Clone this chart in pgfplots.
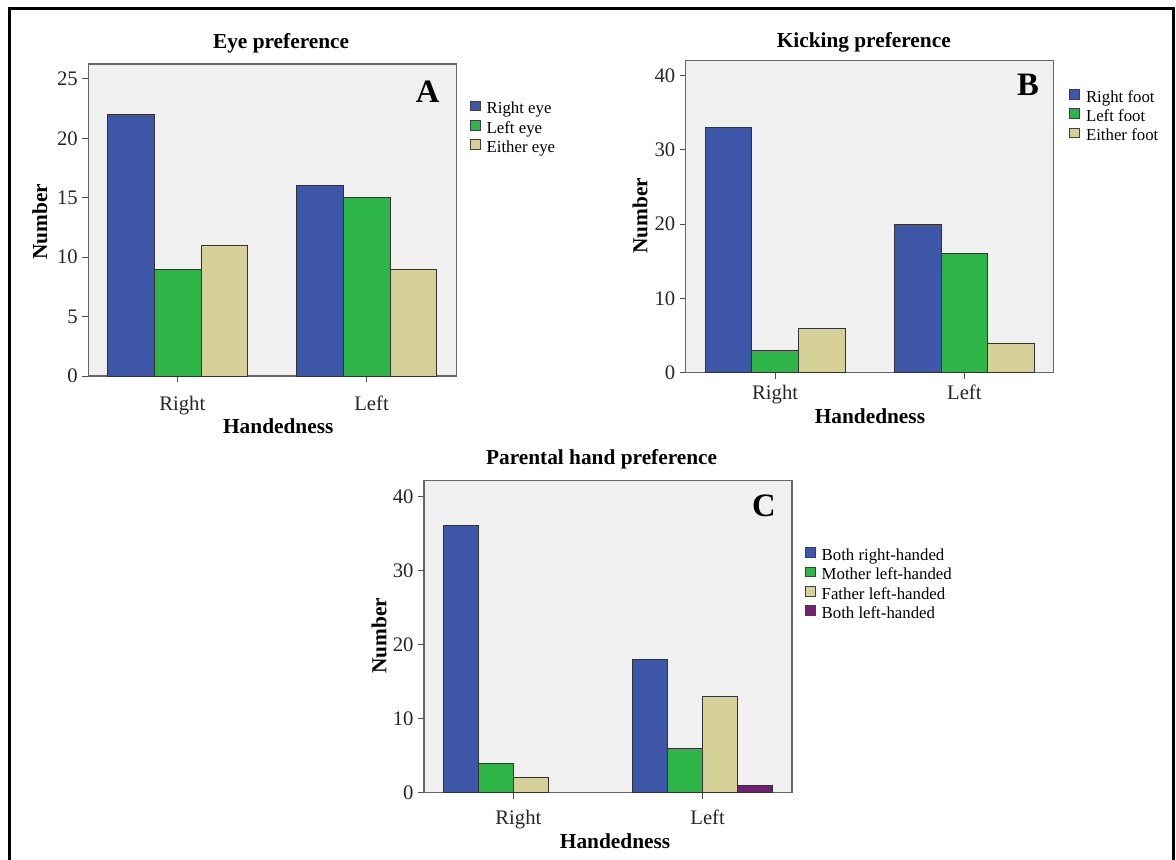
\documentclass[border=0pt]{standalone}
\usepackage{fontspec}
\setmainfont{Liberation Serif}
\usepackage{pgfplots}
\pgfplotsset{compat=1.18}
\definecolor{cblue}{HTML}{3E57A8}
\definecolor{cgreen}{HTML}{2EB548}
\definecolor{ctan}{HTML}{D5D098}
\definecolor{cpurple}{HTML}{70206E}
\definecolor{bgc}{HTML}{F0F0F0}
\pgfplotsset{
  sqlegend/.style={legend image code/.code={\draw[##1, draw=black!75, line width=0.5pt] (0pt,-1.9pt) rectangle (7.4pt,5.5pt);}},
  panel/.style={
    scale only axis, width=276pt, height=234pt,
    anchor=south west,
    ybar=0pt,
    xmin=-0.4726, xmax=1.4726, ymin=0,
    xtick={0,1}, xticklabels={Right,Left},
    tick align=outside, xtick pos=bottom, ytick pos=left,
    major tick length=4.5pt,
    tick style={black!70, line width=0.75pt},
    axis line style={black!60, line width=0.9pt},
    axis background/.style={fill=bgc},
    /pgf/number format/assume math mode=true,
    ticklabel style={font=\fontsize{15.5}{18}\selectfont, text=black!85},
    yticklabel style={anchor=east, inner sep=0pt, xshift=-3.2pt},
    xticklabel style={anchor=base, inner sep=0pt},
    every axis title shift=0pt,
    title style={anchor=base, font=\bfseries\fontsize{16}{19}\selectfont},
    xlabel style={anchor=base, font=\bfseries\fontsize{16}{19}\selectfont},
    ylabel style={anchor=center, font=\bfseries\fontsize{16}{19}\selectfont},
    legend cell align=left,
    legend style={draw=none, fill=none, inner sep=0pt, outer sep=0pt, anchor=north west,
      font=\fontsize{12.6}{14.5}\selectfont, row sep=0pt,
      nodes={inner xsep=4.6pt, inner ysep=0pt, text height=11.45pt, text depth=3.05pt}},
    every axis plot post/.append style={sqlegend},
  },
  bars/.style={draw=black!80, line width=0.7pt, fill=#1},
}
\begin{document}
\begin{tikzpicture}
\path[use as bounding box] (0pt,0pt) rectangle (882pt,-644.25pt);
\draw[line width=2.4pt, line join=miter] (7.2pt,-650pt) -- (7.2pt,-6.6pt) -- (879.9pt,-6.6pt) -- (879.9pt,-650pt);

% Panel A
\begin{axis}[panel, at={(66.2pt,-282pt)},
  ymax=26.26, ytick={0,5,...,25}, bar width=0.2466,
  xticklabel style={yshift=-21pt, xshift=3.5pt},
  title={Eye preference}, title style={at={(axis description cs:0.524,1.0503)}},
  xlabel={Handedness}, xlabel style={at={(axis description cs:0.5163,-0.1837)}},
  ylabel={Number}, ylabel style={at={(axis description cs:-0.1313,0.4949)}},
  legend style={at={(axis description cs:1.0372,0.889)}},
]
\addplot[bars=cblue] coordinates {(0,22) (1,16)};
\addplot[bars=cgreen] coordinates {(0,9) (1,15)};
\addplot[bars=ctan] coordinates {(0,11) (1,9)};
\legend{Right eye, Left eye, Either eye}
\node[font=\bfseries\fontsize{24.5}{28}\selectfont] at (axis description cs:0.9223,0.9103) {A};
\end{axis}

% Panel B
\begin{axis}[panel, at={(514.3pt,-279.5pt)},
  ymax=42.03, ytick={0,10,...,40}, bar width=0.2466,
  xticklabel style={yshift=-15.5pt},
  title={Kicking preference}, title style={at={(axis description cs:0.4837,1.0417)}},
  xlabel={Handedness}, xlabel style={at={(axis description cs:0.5005,-0.1622)}},
  ylabel={Number}, ylabel style={at={(axis description cs:-0.1242,0.5029)}},
  legend style={at={(axis description cs:1.0424,0.9157)}},
]
\addplot[bars=cblue] coordinates {(0,33) (1,20)};
\addplot[bars=cgreen] coordinates {(0,3) (1,16)};
\addplot[bars=ctan] coordinates {(0,6) (1,4)};
\legend{Right foot, Left foot, Either foot}
\node[font=\bfseries\fontsize{24.5}{28}\selectfont] at (axis description cs:0.9302,0.9231) {B};
\end{axis}

% Panel C
\begin{axis}[panel, at={(318pt,-594.5pt)},
  ymax=42.1, ytick={0,10,...,40}, bar width=0.185,
  xticklabel style={yshift=-19.7pt, xshift=3.75pt},
  title={Parental hand preference}, title style={at={(axis description cs:0.4826,1.0503)}},
  xlabel={Handedness}, xlabel style={at={(axis description cs:0.5193,-0.1782)}},
  ylabel={Number}, ylabel style={at={(axis description cs:-0.1223,0.5029)}},
  legend style={at={(axis description cs:1.0353,0.793)}},
]
\addplot[bars=cblue] coordinates {(0,36) (1,18)};
\addplot[bars=cgreen] coordinates {(0,4) (1,6)};
\addplot[bars=ctan] coordinates {(0,2) (1,13)};
\addplot[bars=cpurple] coordinates {(1,1)};
\legend{Both right-handed, Mother left-handed, Father left-handed, Both left-handed}
\node[font=\bfseries\fontsize{24.5}{28}\selectfont] at (axis description cs:0.9234,0.9179) {C};
\end{axis}
\end{tikzpicture}
\end{document}
